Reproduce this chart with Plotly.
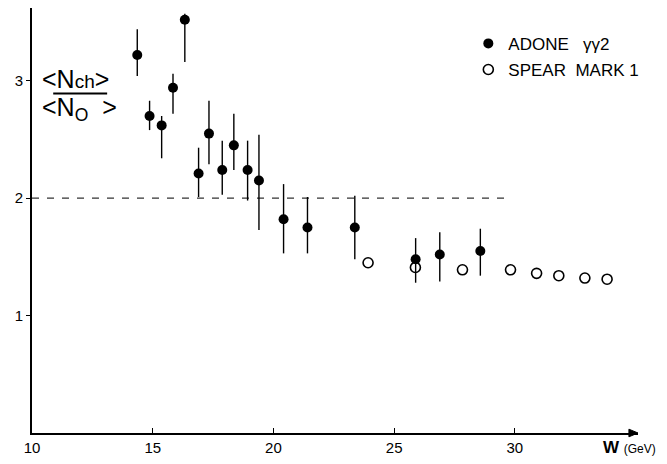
import plotly.graph_objects as go

# ADONE gamma-gamma 2 (filled)
adone_w = [14.36, 14.87, 15.37, 15.84, 16.33, 16.90, 17.33, 17.88, 18.36, 18.93, 19.40, 20.42, 21.41, 23.37, 25.89, 26.89, 28.57]
adone_n = [3.22, 2.70, 2.62, 2.94, 3.52, 2.21, 2.55, 2.24, 2.45, 2.24, 2.15, 1.82, 1.75, 1.75, 1.48, 1.52, 1.55]
adone_ep = [0.22, 0.13, 0.08, 0.12, 0.05, 0.22, 0.28, 0.25, 0.27, 0.25, 0.39, 0.30, 0.26, 0.27, 0.18, 0.19, 0.19]
adone_em = [0.18, 0.12, 0.28, 0.22, 0.36, 0.20, 0.26, 0.21, 0.21, 0.26, 0.42, 0.29, 0.22, 0.27, 0.20, 0.23, 0.21]

# SPEAR MARK 1 (open)
spear_w = [23.92, 25.88, 27.83, 29.82, 30.90, 31.82, 32.90, 33.82]
spear_n = [1.45, 1.41, 1.39, 1.39, 1.36, 1.34, 1.32, 1.31]

x_ticks = [10, 15, 20, 25, 30]
y_ticks = [1, 2, 3]
ref_level = 2
ref_x = [10, 29.7]

FONT = "Liberation Sans, Arial, sans-serif"

fig = go.Figure()

fig.add_trace(go.Scatter(
    x=ref_x, y=[ref_level, ref_level], mode="lines",
    line=dict(color="#333", width=1.2, dash="7px,8px"),
    showlegend=False, hoverinfo="skip"))

fig.add_trace(go.Scatter(
    x=adone_w, y=adone_n, mode="markers", name="ADONE   γγ2",
    legendgroup="a",
    marker=dict(symbol="circle", size=10, color="black"),
    error_y=dict(type="data", symmetric=False, array=adone_ep, arrayminus=adone_em,
                 color="black", thickness=1.4, width=0)))

fig.add_trace(go.Scatter(
    x=spear_w, y=spear_n, mode="markers", name="SPEAR  MARK 1",
    legendgroup="b",
    marker=dict(symbol="circle-open", size=10, color="black", line=dict(width=1.6))))

fig.update_layout(
    width=667, height=464,
    margin=dict(l=32, r=29, t=8, b=25),
    paper_bgcolor="white", plot_bgcolor="white",
    font=dict(family=FONT, color="black", size=15),
    legend=dict(x=0.72, y=0.958, xanchor="left", yanchor="top",
                bgcolor="rgba(0,0,0,0)", tracegroupgap=1,
                font=dict(size=17, family=FONT)),
    xaxis=dict(range=[10, 35.1], tickvals=x_ticks, ticks="inside", ticklen=5,
               tickcolor="black", showline=True, linecolor="black", linewidth=1.6,
               showgrid=False, zeroline=False, tickfont=dict(size=15)),
    yaxis=dict(range=[0, 3.62], tickvals=y_ticks, ticks="outside", ticklen=4,
               tickcolor="black", showline=True, linecolor="black", linewidth=2,
               showgrid=False, zeroline=False, tickfont=dict(size=15)),
)

# y-axis label as fraction inside the plot
fig.add_annotation(xref="paper", yref="paper", x=0.014, y=0.833, xanchor="left", yanchor="middle",
                   text="<N<span style='font-size:19px'>ch</span>>", showarrow=False,
                   font=dict(size=25, family=FONT))
fig.add_annotation(xref="paper", yref="paper", x=0.014, y=0.763, xanchor="left", yanchor="middle",
                   text="<N<sub>O</sub>  >", showarrow=False, font=dict(size=25, family=FONT))
fig.add_shape(type="line", xref="paper", yref="paper", x0=0.035, x1=0.124, y0=0.799, y1=0.799,
              line=dict(color="black", width=2))

# axis title W (GeV)
fig.add_annotation(xref="paper", yref="paper", x=1.033, y=-0.035, xanchor="right", yanchor="middle",
                   text="<b>W</b> <span style='font-size:12px'>(GeV)</span>", showarrow=False,
                   font=dict(size=17, family=FONT))

# arrow tip at end of x axis
fig.add_shape(type="path", xref="paper", yref="paper",
              path="M 0.985 0.009 L 1.0 0 L 0.985 -0.009 Z",
              fillcolor="black", line=dict(color="black", width=1))

fig.write_html("out.html")
